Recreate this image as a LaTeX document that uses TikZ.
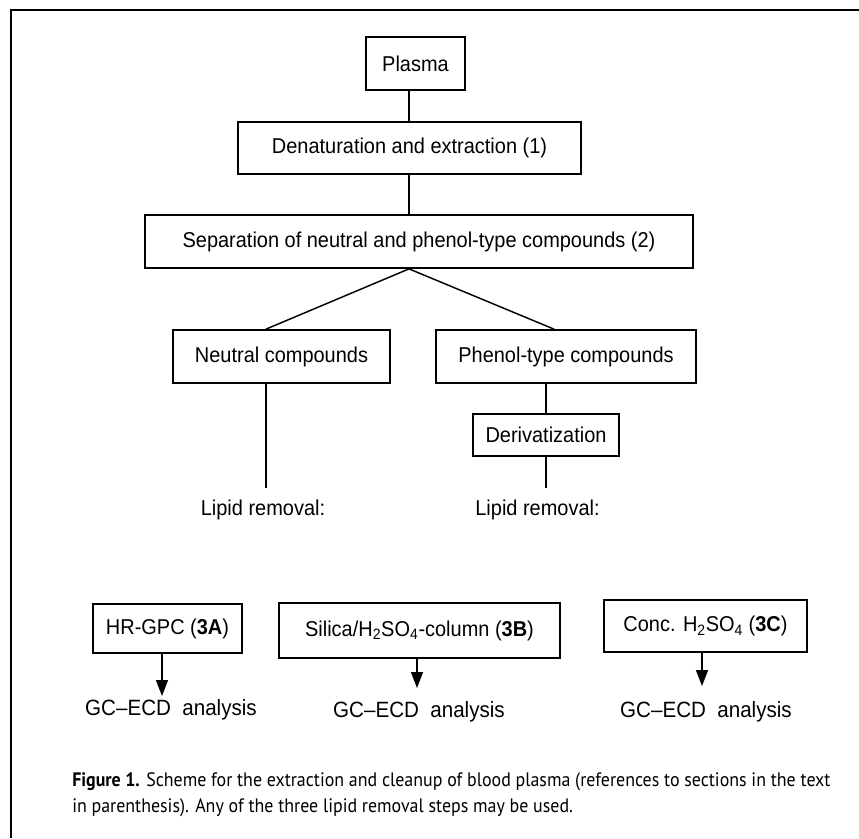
\documentclass[tikz,border=0pt]{standalone}
\usepackage{fontspec}
\setmainfont{Liberation Sans}[FakeStretch=0.93]
\newfontfamily\capfont{PT Sans}[FakeStretch=0.92]
\usetikzlibrary{arrows.meta}
\begin{document}
\begin{tikzpicture}[x=0.75pt,y=-0.75pt,
  box/.style={draw, line width=1.3pt, inner sep=0pt, font=\fontsize{16.1}{18}\selectfont},
  lbl/.style={inner sep=0pt, font=\fontsize{16.1}{18}\selectfont},
  gclbl/.style={inner sep=0pt, font=\fontsize{16.6}{18}\selectfont},
  conn/.style={line width=1.1pt},
  arr/.style={line width=1.1pt, -{Triangle[width=9pt,length=12pt]}},
  captext/.style={anchor=base west, inner sep=0pt, font=\capfont\fontsize{14.6}{16}\selectfont}]
\useasboundingbox (0,0) rectangle (859,838);
% frame
\draw[line width=2pt] (11,838) -- (11,10) -- (859,10);
% boxes
\node[box, minimum width=74.25pt, minimum height=39.75pt] (plasma) at (415.5,63.5) {Plasma};
\node[box, minimum width=257.25pt, minimum height=39pt] (denat) at (409.5,148) {Denaturation and extraction (1)};
\node[box, minimum width=411pt, minimum height=39.75pt] (sep) at (419,241.5) {Separation of neutral and phenol-type compounds (2)};
\node[box, minimum width=162.75pt, minimum height=39.75pt] (neu) at (281.5,356.5) {Neutral compounds};
\node[box, minimum width=195pt, minimum height=39.75pt] (phe) at (566,356.5) {Phenol-type compounds};
\node[box, minimum width=109.5pt, minimum height=31.5pt] (der) at (546,435) {Derivatization};
\node[lbl] (lipL) at (263,510) {Lipid removal:};
\node[lbl] (lipR) at (537.5,510) {Lipid removal:};
\node[box, minimum width=111.75pt, minimum height=36.75pt] (hr) at (167.5,628.5) {HR-GPC (\textbf{3A})};
\node[box, minimum width=210.75pt, minimum height=41.25pt] (sil) at (419.5,630.5) {Silica/H\textsubscript{2}SO\textsubscript{4}-column (\textbf{3B})};
\node[box, minimum width=152.25pt, minimum height=39pt] (conc) at (705.5,626) {Conc. H\textsubscript{2}SO\textsubscript{4} (\textbf{3C})};
\node[gclbl] (gc1) at (171,710) {GC–ECD\ \ analysis};
\node[gclbl] (gc2) at (419,712) {GC–ECD\ \ analysis};
\node[gclbl] (gc3) at (706,712) {GC–ECD\ \ analysis};
% connectors
\coordinate (tr) at (409,0);
\coordinate (nx) at (266,0);
\coordinate (pd) at (554,0);
\coordinate (pv) at (546,0);
\coordinate (lend) at (266,488);
\coordinate (rend) at (546,488);
\draw[conn] (tr |- plasma.south) -- (tr |- denat.north);
\draw[conn] (tr |- denat.south) -- (tr |- sep.north);
\draw[conn] (nx |- neu.north) -- (tr |- sep.south) -- (pd |- phe.north);
\draw[conn] (nx |- neu.south) -- (lend);
\draw[conn] (pv |- phe.south) -- (pv |- der.north);
\draw[conn] (pv |- der.south) -- (rend);
\coordinate (a1) at (162,0);
\coordinate (a2) at (417,0);
\coordinate (a3) at (702,0);
\coordinate (e1) at (162,696);
\coordinate (e2) at (417,688);
\coordinate (e3) at (702,686);
\draw[arr] (a1 |- hr.south) -- (e1);
\draw[arr] (a2 |- sil.south) -- (e2);
\draw[arr] (a3 |- conc.south) -- (e3);
% caption
\node[captext] (cap1) at (72,786) {\textbf{Figure 1.} Scheme for the extraction and cleanup of blood plasma (references to sections in the text};
\node[captext] (cap2) at (72,812) {in parenthesis). Any of the three lipid removal steps may be used.};
\end{tikzpicture}
\end{document}
